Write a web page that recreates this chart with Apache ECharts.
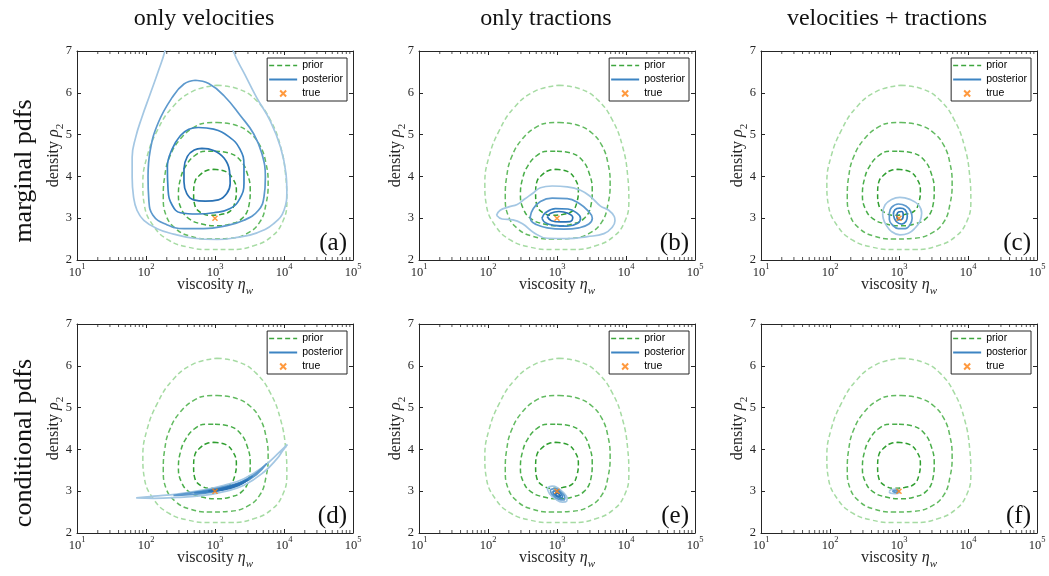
<!DOCTYPE html>
<html>
<head>
<meta charset="utf-8">
<title>Prior and posterior pdfs of viscosity and density</title>
<script src="https://cdn.jsdelivr.net/npm/echarts@6/dist/echarts.min.js"></script>
<style>
  html, body { margin: 0; padding: 0; background: #fff; }
  #chart { width: 1049px; height: 576px; }
</style>
</head>
<body>
<div id="chart"></div>
<script>
// ---- text ----
const columnTitles = ['only velocities', 'only tractions', 'velocities + tractions'];
const rowTitles = ['marginal pdfs', 'conditional pdfs'];
const panelLetters = ['(a)', '(b)', '(c)', '(d)', '(e)', '(f)'];
const legendNames = ['prior', 'posterior', 'true'];

// ---- axes ----
const etaRange = [10, 100000];          // viscosity, log scale
const rhoRange = [2, 7];                // density
const minorTickValues = [20, 30, 40, 50, 60, 70, 80, 90,
  200, 300, 400, 500, 600, 700, 800, 900,
  2000, 3000, 4000, 5000, 6000, 7000, 8000, 9000,
  20000, 30000, 40000, 50000, 60000, 70000, 80000, 90000];

// ---- true parameter ----
const trueValue = [[1000, 3]];

// ---- prior contours [viscosity, density], inner to outer (same in every panel) ----
const priorC1 = [[955,4.17],[1410,4.12],[1820,3.94],[2040,3.67],[1950,3.39],[1660,3.17],[1200,3.09],[850,3.07],[630,3.13],[510,3.31],[490,3.59],[510,3.87],[630,4.06],[760,4.14],[955,4.17]];
const priorC2 = [[1000,4.60],[1585,4.56],[2340,4.38],[2950,4.06],[3240,3.67],[3090,3.29],[2450,2.99],[1660,2.86],[1070,2.82],[646,2.86],[417,2.99],[324,3.23],[295,3.55],[316,3.94],[380,4.26],[513,4.50],[724,4.60],[1000,4.60]];
const priorC3 = [[1070,5.29],[1860,5.24],[3090,5.06],[4470,4.74],[5500,4.30],[5890,3.83],[5500,3.35],[4470,2.91],[2880,2.63],[1660,2.52],[851,2.50],[437,2.57],[269,2.75],[195,3.07],[178,3.51],[186,3.98],[219,4.46],[316,4.90],[513,5.19],[759,5.28],[1070,5.29]];
const priorC4 = [[1070,6.18],[2200,6.09],[3900,5.83],[6300,5.36],[8900,4.72],[10600,4.00],[11000,3.40],[9600,2.92],[6600,2.56],[3630,2.34],[1660,2.25],[850,2.25],[400,2.31],[210,2.48],[130,2.80],[95,3.30],[90,3.83],[103,4.46],[146,5.10],[240,5.65],[480,6.04],[1070,6.18]];

// ---- posterior contours, inner to outer ----
// (a) marginal, only velocities
const postA1 = [[646,4.67],[955,4.62],[1350,4.44],[1620,4.14],[1660,3.83],[1480,3.59],[1120,3.44],[724,3.41],[490,3.44],[390,3.59],[355,3.87],[355,4.18],[398,4.48],[500,4.63],[646,4.67]];
const postA2 = [[575,5.17],[955,5.13],[1585,4.95],[2290,4.66],[2630,4.26],[2630,3.83],[2290,3.47],[1660,3.23],[955,3.13],[550,3.10],[316,3.13],[240,3.31],[209,3.67],[204,4.22],[240,4.66],[316,4.98],[417,5.13],[575,5.17]];
const postA3 = [[520,6.30],[810,6.22],[1350,5.93],[2340,5.45],[3630,5.02],[4790,4.54],[5370,3.98],[5130,3.51],[4270,3.19],[2630,2.95],[1350,2.81],[690,2.75],[355,2.75],[191,2.86],[126,3.07],[110,3.43],[107,3.98],[115,4.62],[151,5.29],[240,5.89],[355,6.21],[520,6.30]];
const postA4 = [[646,7.95],[1500,7.60],[1840,7.00],[2700,6.44],[4000,5.89],[6310,5.33],[8910,4.70],[10700,4.06],[11000,3.67],[10000,3.19],[7080,2.87],[4070,2.65],[2090,2.54],[1070,2.49],[490,2.52],[251,2.62],[145,2.75],[93,2.95],[74,3.19],[66,3.51],[63,3.98],[63,4.46],[71,4.94],[87,5.41],[115,5.97],[151,6.52],[188,7.00],[224,7.63],[646,7.95]];
// (b) marginal, only tractions
const postB1 = [[720,3.04],[810,3.12],[1060,3.16],[1440,3.12],[1690,3.02],[1550,2.92],[1120,2.91],[830,2.94],[720,3.04]];
const postB2 = [[605,3.00],[680,3.13],[950,3.23],[1440,3.22],[1950,3.12],[2190,3.00],[2000,2.88],[1400,2.81],[900,2.83],[680,2.89],[605,3.00]];
const postB3 = [[410,3.04],[450,3.22],[575,3.40],[850,3.48],[1410,3.47],[2080,3.36],[2800,3.18],[3250,3.00],[2900,2.86],[2080,2.77],[1260,2.74],[720,2.77],[500,2.85],[420,2.94],[410,3.04]];
const postB4 = [[133,3.07],[150,3.19],[200,3.27],[265,3.33],[340,3.46],[457,3.61],[575,3.73],[851,3.77],[1410,3.75],[2190,3.67],[3090,3.51],[4270,3.29],[5620,3.19],[6760,3.04],[6920,2.94],[6300,2.78],[4790,2.63],[2750,2.56],[1410,2.51],[720,2.52],[457,2.66],[320,2.86],[230,2.96],[160,2.98],[133,3.07]];
// (c) marginal, velocities + tractions
const postC1 = [[930,3.08],[980,3.15],[1090,3.16],[1150,3.08],[1120,2.98],[980,2.96],[930,3.08]];
const postC2 = [[830,3.08],[870,3.20],[1030,3.24],[1230,3.20],[1320,3.05],[1260,2.92],[1100,2.86],[910,2.92],[830,3.08]];
const postC3 = [[725,3.12],[780,3.26],[980,3.34],[1260,3.29],[1480,3.16],[1550,3.00],[1440,2.84],[1230,2.75],[980,2.75],[810,2.83],[725,2.97],[725,3.12]];
const postC4 = [[580,3.12],[630,3.32],[780,3.45],[1030,3.50],[1440,3.45],[1910,3.32],[2130,3.12],[2000,2.92],[1700,2.76],[1370,2.64],[1030,2.60],[780,2.68],[650,2.84],[590,3.00],[580,3.12]];
// (d) conditional, only velocities
const postD1 = [[800,3.00],[1300,3.07],[2300,3.19],[3000,3.27],[2200,3.14],[1300,3.03],[800,3.00]];
const postD2 = [[500,2.96],[1000,3.04],[1900,3.15],[3500,3.36],[2500,3.19],[1300,3.04],[700,2.97],[500,2.96]];
const postD3 = [[250,2.90],[690,3.01],[1480,3.12],[2880,3.28],[5620,3.66],[4000,3.40],[2400,3.18],[1300,3.04],[690,2.95],[250,2.90]];
const postD4 = [[72,2.84],[129,2.88],[282,2.93],[690,3.03],[1350,3.14],[2630,3.30],[5130,3.60],[7940,3.88],[11200,4.12],[9500,3.96],[7940,3.78],[5130,3.46],[2630,3.14],[1350,2.99],[690,2.90],[282,2.85],[129,2.83],[72,2.84]];
// (e) conditional, only tractions
const postE1 = [[940,2.96],[1050,2.94],[1130,2.88],[1030,2.88],[940,2.96]];
const postE2 = [[870,3.00],[1000,3.01],[1180,2.90],[1200,2.84],[1050,2.85],[900,2.93],[870,3.00]];
const postE3 = [[800,3.04],[950,3.06],[1150,2.97],[1300,2.85],[1250,2.79],[1050,2.81],[850,2.92],[800,3.04]];
const postE4 = [[720,3.08],[850,3.12],[1000,3.09],[1250,2.96],[1400,2.83],[1380,2.76],[1200,2.74],[950,2.81],[780,2.94],[720,3.08]];
// (f) conditional, velocities + tractions
const postF1 = [[800,3.00],[900,3.02],[960,3.00],[880,2.97],[800,3.00]];
const postF2 = [[720,2.99],[780,3.04],[900,3.05],[1000,3.03],[1010,2.96],[880,2.94],[760,2.95],[720,2.99]];

// ---- chart assembly ----
const SERIF = '"Liberation Serif", "DejaVu Serif", serif';
const SANS = '"Liberation Sans", Arial, sans-serif';
const INK = '#262626';

const priorLevels = [priorC1, priorC2, priorC3, priorC4];
const priorColors = ['#2f9e2f', '#4aae4a', '#62ba60', '#a6dba3'];
const posteriorSets = [
  [postA1, postA2, postA3, postA4],
  [postB1, postB2, postB3, postB4],
  [postC1, postC2, postC3, postC4],
  [postD1, postD2, postD3, postD4],
  [postE1, postE2, postE3, postE4],
  [postF1, postF2]
];
const posteriorColors = ['#2a72b5', '#3c84c3', '#5d99cd', '#a4c7e3'];

const gridLefts = [77, 419, 761];
const gridTops = [51, 324];
const gridW = 276, gridH = 209;
const crossPath = 'path://M0,0L10,10M10,0L0,10';

const grid = [], xAxis = [], yAxis = [], series = [], legend = [], graphic = [];

const tickLabelRich = {
  b: { fontFamily: SERIF, fontSize: 12.5, color: INK, padding: [4, 0, 0, 0], verticalAlign: 'bottom' },
  s: { fontFamily: SERIF, fontSize: 8.5, color: INK, verticalAlign: 'top' }
};
const nameRich = {
  t: { fontFamily: SERIF, fontSize: 16, color: INK, padding: [0, 0, 4, 0], verticalAlign: 'top' },
  i: { fontFamily: SERIF, fontSize: 16, fontStyle: 'italic', color: INK, padding: [0, 0, 4, 0], verticalAlign: 'top' },
  u: { fontFamily: SERIF, fontSize: 11, fontStyle: 'italic', color: INK, verticalAlign: 'bottom' },
  n: { fontFamily: SERIF, fontSize: 11, color: INK, verticalAlign: 'bottom' }
};

for (let k = 0; k < 6; k++) {
  const row = Math.floor(k / 3), col = k % 3;
  const left = gridLefts[col], top = gridTops[row];
  grid.push({ left: left, top: top, width: gridW, height: gridH, containLabel: false });

  const axisLine = { onZero: false, lineStyle: { color: INK, width: 1 } };
  const axisTick = { inside: true, length: 4, lineStyle: { color: INK, width: 1 } };

  xAxis[k] = {
    gridIndex: k, type: 'log', logBase: 10, min: etaRange[0], max: etaRange[1],
    position: 'bottom', axisLine: axisLine, axisTick: axisTick, splitLine: { show: false },
    axisLabel: {
      margin: 2, showMinLabel: true, showMaxLabel: true,
      formatter: v => '{b|10}{s|' + Math.round(Math.log10(v)) + '}',
      rich: tickLabelRich
    },
    name: '{t|viscosity }{i|η}{u|w}', nameLocation: 'middle', nameGap: 17,
    nameMoveOverlap: false,
    nameTextStyle: { rich: nameRich }
  };
  xAxis[6 + k] = {
    gridIndex: k, type: 'log', logBase: 10, min: etaRange[0], max: etaRange[1],
    position: 'top', axisLine: axisLine, axisTick: axisTick, splitLine: { show: false },
    axisLabel: { show: false }
  };
  yAxis[k] = {
    gridIndex: k, type: 'value', min: rhoRange[0], max: rhoRange[1], interval: 1,
    position: 'left', axisLine: axisLine, axisTick: axisTick, splitLine: { show: false },
    axisLabel: { margin: 5, fontFamily: SERIF, fontSize: 12.5, color: INK },
    name: '{t|density }{i|ρ}{n|2}', nameLocation: 'middle', nameGap: 11,
    nameMoveOverlap: false,
    nameTextStyle: { rich: nameRich }
  };
  yAxis[6 + k] = {
    gridIndex: k, type: 'value', min: rhoRange[0], max: rhoRange[1], interval: 1,
    position: 'right', axisLine: axisLine, axisTick: axisTick, splitLine: { show: false },
    axisLabel: { show: false }
  };

  // minor ticks of the log axis (2..9 in each decade), bottom and top
  [[rhoRange[0], -1.5], [rhoRange[1], 1.5]].forEach(([yv, off]) => {
    series.push({
      type: 'scatter', xAxisIndex: k, yAxisIndex: k, silent: true, clip: false,
      symbol: 'rect', symbolSize: [1, 3], symbolOffset: [0, off],
      itemStyle: { color: INK }, z: 6,
      data: minorTickValues.map(v => [v, yv])
    });
  });

  // prior contours, outermost first
  for (let i = priorLevels.length - 1; i >= 0; i--) {
    series.push({
      type: 'line', name: 'prior', xAxisIndex: k, yAxisIndex: k,
      data: priorLevels[i], symbol: 'none', smooth: 0.45, silent: true, z: 2,
      itemStyle: { color: priorColors[i] },
      lineStyle: { color: priorColors[i], width: 1.5, type: [5, 3] }
    });
  }
  // posterior contours, outermost first
  const set = posteriorSets[k];
  const offset = posteriorColors.length - set.length;
  for (let i = set.length - 1; i >= 0; i--) {
    series.push({
      type: 'line', name: 'posterior', xAxisIndex: k, yAxisIndex: k,
      data: set[i], symbol: 'none', smooth: 0.45, silent: true, z: 3,
      itemStyle: { color: posteriorColors[i + offset] },
      lineStyle: { color: posteriorColors[i + offset], width: 1.7 }
    });
  }
  // true parameter value
  series.push({
    type: 'scatter', name: 'true', xAxisIndex: k, yAxisIndex: k,
    data: trueValue, symbol: crossPath, symbolSize: 5, silent: true, z: 5,
    itemStyle: { color: '#ff7f0e', borderColor: '#ff7f0e', borderWidth: 1.5 }
  });

  legend.push({
    right: 1049 - (left + gridW - 6), top: top + 7,
    orient: 'vertical', itemWidth: 28, itemHeight: 6, itemGap: 3, itemTextGap: 2,
    padding: [2, 4, 2, 1], backgroundColor: '#fff',
    borderColor: INK, borderWidth: 1, borderRadius: 0, selectedMode: false,
    textStyle: { fontFamily: SANS, fontSize: 10.5, color: '#000' },
    data: [
      { name: legendNames[0], itemStyle: { opacity: 0 },
        lineStyle: { color: '#3ea63e', width: 1.6, type: [5, 3] } },
      { name: legendNames[1], itemStyle: { opacity: 0 },
        lineStyle: { color: '#3c84c3', width: 2 } },
      { name: legendNames[2] }
    ]
  });

  graphic.push({
    type: 'text', x: left + gridW - 6, y: top + gridH - 17, z: 10,
    style: { text: panelLetters[k], font: '25px ' + SERIF, fill: '#111',
             textAlign: 'right', textVerticalAlign: 'middle', verticalAlign: 'middle' }
  });
}

const titleCenters = [204, 546, 887];
columnTitles.forEach((t, i) => graphic.push({
  type: 'text', x: titleCenters[i], y: 19,
  style: { text: t, font: '24px ' + SERIF, fill: '#111',
           textAlign: 'center', textVerticalAlign: 'middle', verticalAlign: 'middle' }
}));
const rowCenters = [171, 443];
rowTitles.forEach((t, j) => graphic.push({
  type: 'text', x: 24, y: rowCenters[j], rotation: Math.PI / 2,
  style: { text: t, font: '26px ' + SERIF, fill: '#111',
           textAlign: 'center', textVerticalAlign: 'middle', verticalAlign: 'middle' }
}));

const chart = echarts.init(document.getElementById('chart'), null, { renderer: 'canvas' });
chart.setOption({
  animation: false,
  backgroundColor: '#fff',
  grid: grid, xAxis: xAxis, yAxis: yAxis, legend: legend, series: series, graphic: graphic
});
</script>
</body>
</html>
